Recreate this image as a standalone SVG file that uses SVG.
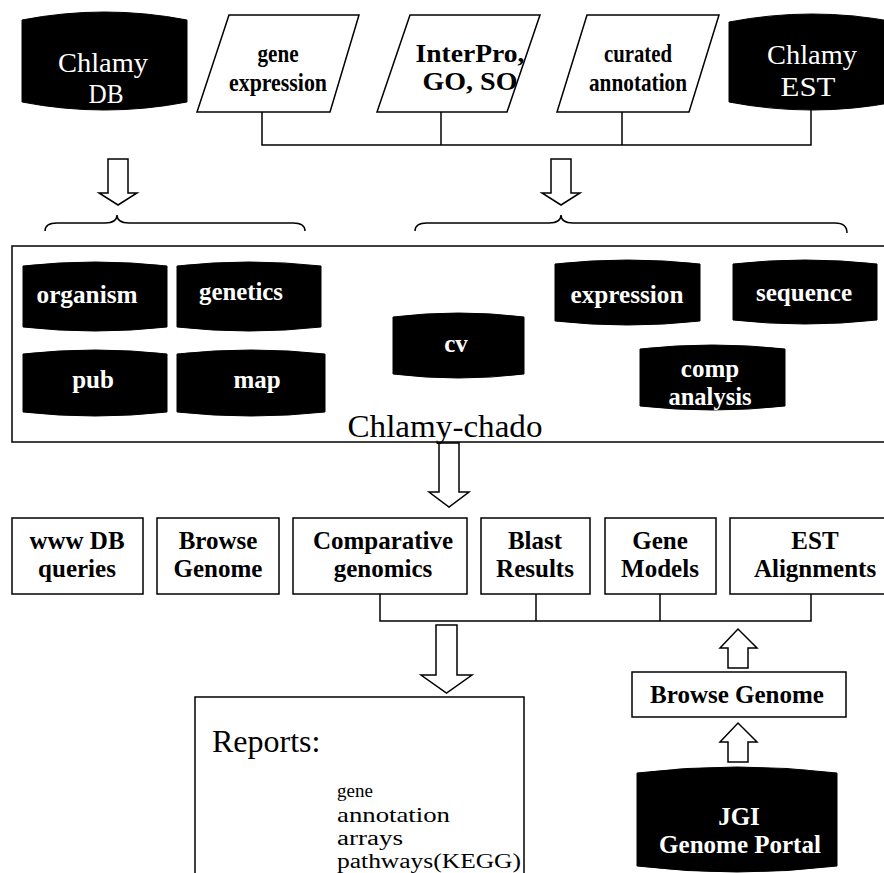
<svg xmlns="http://www.w3.org/2000/svg" width="884" height="873" viewBox="0 0 884 873">
<style>
.cyl{fill:#000;stroke:#000;stroke-width:1}
.shape{fill:#fff;stroke:#000;stroke-width:1.5}
.line{fill:none;stroke:#000;stroke-width:1.5}
.arrow{fill:#fff;stroke:#000;stroke-width:1.5;stroke-linejoin:miter}
text{font-family:"Liberation Serif","Times New Roman",serif;text-anchor:middle}
.big{fill:#fff;font-size:28px}
.lbl{fill:#fff;font-size:25px;font-weight:bold}
.par{fill:#000;font-size:25px;font-weight:bold}
.box{fill:#000;font-size:25px;font-weight:bold}
.title{fill:#000;font-size:31px}
.rep{fill:#000;text-anchor:start}
</style>
<rect width="884" height="873" fill="#fff"/>

<g id="connectors">
  <polyline class="line" points="262,112 262,145 811,145 811,110"/>
  <line class="line" x1="441" y1="112" x2="441" y2="145"/>
  <line class="line" x1="622" y1="112" x2="622" y2="145"/>
  <polyline class="line" points="380,594 380,621 811,621 811,594"/>
  <line class="line" x1="536" y1="594" x2="536" y2="621"/>
  <line class="line" x1="660" y1="594" x2="660" y2="621"/>
  <path class="line" d="M45,231 Q45,223 57,223 L105,223 Q117,223 117,215 Q117,223 129,223 L293,223 Q305,223 305,231"/>
  <path class="line" d="M415,231 Q415,223 427,223 L549,223 Q561,223 561,215 Q561,223 573,223 L835,223 Q847,223 847,233"/>
  <polygon class="arrow" points="108,159 128,159 128,193 137,193 118,205 99,193 108,193"/>
  <polygon class="arrow" points="551,159 571,159 571,193 580,193 561,205 542,193 551,193"/>
  <polygon class="arrow" points="439,443 459,443 459,492 469,492 449,507 429,492 439,492"/>
  <polygon class="arrow" points="436,625 457,625 457,675 472,675 446.5,693 421,675 436,675"/>
  <polygon class="arrow" points="728,668 748,668 748,648 757,648 738,629 720,648 728,648"/>
  <polygon class="arrow" points="728,762 748,762 748,742 757,742 738,723 720,742 728,742"/>
</g>

<g id="chlamy-db">
  <path class="cyl" d="M22,20 Q104.5,4 187,20 L187,102 Q104.5,118 22,102 Z"/>
  <text class="big" x="103" y="72" textLength="90" lengthAdjust="spacingAndGlyphs">Chlamy</text>
  <text class="big" x="106" y="103" textLength="35" lengthAdjust="spacingAndGlyphs">DB</text>
</g>

<g id="gene-expression">
  <polygon class="shape" points="229,15 359,15 330,112 197,112"/>
  <text class="par" x="278" y="62" textLength="41" lengthAdjust="spacingAndGlyphs">gene</text>
  <text class="par" x="278" y="91" textLength="98" lengthAdjust="spacingAndGlyphs">expression</text>
</g>

<g id="interpro">
  <polygon class="shape" points="410,15 540,15 507,112 377,112"/>
  <text class="par" x="470" y="62" textLength="109" lengthAdjust="spacingAndGlyphs">InterPro,</text>
  <text class="par" x="470" y="90" textLength="95" lengthAdjust="spacingAndGlyphs">GO, SO</text>
</g>

<g id="curated-annotation">
  <polygon class="shape" points="587,15 719,15 689,112 557,112"/>
  <text class="par" x="638" y="62" textLength="68" lengthAdjust="spacingAndGlyphs">curated</text>
  <text class="par" x="638" y="91" textLength="98" lengthAdjust="spacingAndGlyphs">annotation</text>
</g>

<g id="chlamy-est">
  <path class="cyl" d="M729,22 Q812,6 895,22 L895,102 Q812,118 729,102 Z"/>
  <text class="big" x="812" y="64" textLength="90" lengthAdjust="spacingAndGlyphs">Chlamy</text>
  <text class="big" x="808" y="96" textLength="55" lengthAdjust="spacingAndGlyphs">EST</text>
</g>

<g id="chlamy-chado">
  <rect class="shape" x="12" y="246" width="885" height="196" fill="none"/>
  <text class="title" x="445" y="437" textLength="195" lengthAdjust="spacingAndGlyphs">Chlamy-chado</text>
</g>

<g id="organism">
  <path class="cyl" d="M23,266 Q95,258 167,266 L167,327 Q95,335 23,327 Z"/>
  <text class="lbl" x="87" y="303" textLength="101" lengthAdjust="spacingAndGlyphs">organism</text>
</g>
<g id="genetics">
  <path class="cyl" d="M177,266 Q249,258 321,266 L321,327 Q249,335 177,327 Z"/>
  <text class="lbl" x="241" y="300" textLength="84" lengthAdjust="spacingAndGlyphs">genetics</text>
</g>
<g id="pub">
  <path class="cyl" d="M23,354 Q95,346 167,354 L167,412 Q95,420 23,412 Z"/>
  <text class="lbl" x="93" y="388">pub</text>
</g>
<g id="map">
  <path class="cyl" d="M177,354 Q251,346 325,354 L325,412 Q251,420 177,412 Z"/>
  <text class="lbl" x="257" y="388">map</text>
</g>
<g id="cv">
  <path class="cyl" d="M393,317 Q458.5,309 524,317 L524,374 Q458.5,382 393,374 Z"/>
  <text class="lbl" x="456" y="352">cv</text>
</g>
<g id="expression">
  <path class="cyl" d="M555,264 Q627.5,256 700,264 L700,321 Q627.5,329 555,321 Z"/>
  <text class="lbl" x="627" y="303" textLength="113" lengthAdjust="spacingAndGlyphs">expression</text>
</g>
<g id="sequence">
  <path class="cyl" d="M733,264 Q805,256 877,264 L877,320 Q805,328 733,320 Z"/>
  <text class="lbl" x="804" y="301" textLength="96" lengthAdjust="spacingAndGlyphs">sequence</text>
</g>
<g id="comp-analysis">
  <path class="cyl" d="M640,349 Q712.5,341 785,349 L785,406 Q712.5,414 640,406 Z"/>
  <text class="lbl" x="710" y="377">comp</text>
  <text class="lbl" x="710" y="405" textLength="83" lengthAdjust="spacingAndGlyphs">analysis</text>
</g>

<g id="www-db-queries">
  <rect class="shape" x="12" y="518" width="131" height="76"/>
  <text class="box" x="77" y="549">www DB</text>
  <text class="box" x="77" y="577">queries</text>
</g>
<g id="browse-genome-1">
  <rect class="shape" x="157" y="518" width="122" height="76"/>
  <text class="box" x="218" y="549">Browse</text>
  <text class="box" x="218" y="577">Genome</text>
</g>
<g id="comparative-genomics">
  <rect class="shape" x="293" y="518" width="174" height="76"/>
  <text class="box" x="383" y="549">Comparative</text>
  <text class="box" x="383" y="577">genomics</text>
</g>
<g id="blast-results">
  <rect class="shape" x="481" y="518" width="109" height="76"/>
  <text class="box" x="535" y="549">Blast</text>
  <text class="box" x="535" y="577">Results</text>
</g>
<g id="gene-models">
  <rect class="shape" x="605" y="518" width="111" height="76"/>
  <text class="box" x="660" y="549">Gene</text>
  <text class="box" x="660" y="577">Models</text>
</g>
<g id="est-alignments">
  <rect class="shape" x="730" y="518" width="170" height="76"/>
  <text class="box" x="815" y="549">EST</text>
  <text class="box" x="815" y="577">Alignments</text>
</g>

<g id="reports">
  <rect class="shape" x="195" y="697" width="329" height="190"/>
  <text class="rep" x="212" y="752" style="font-size:32px">Reports:</text>
  <text class="rep" x="337" y="797" style="font-size:19px">gene</text>
  <text class="rep" x="337" y="822" style="font-size:21px" textLength="113" lengthAdjust="spacingAndGlyphs">annotation</text>
  <text class="rep" x="337" y="845" style="font-size:20px" textLength="66" lengthAdjust="spacingAndGlyphs">arrays</text>
  <text class="rep" x="337" y="868" style="font-size:20px" textLength="184" lengthAdjust="spacingAndGlyphs">pathways(KEGG)</text>
</g>

<g id="browse-genome-2">
  <rect class="shape" x="632" y="672" width="214" height="45"/>
  <text class="box" x="737" y="703">Browse Genome</text>
</g>

<g id="jgi-genome-portal">
  <path class="cyl" d="M637,773 Q737,761 837,773 L837,866 Q737,878 637,866 Z"/>
  <text class="lbl" x="739" y="825">JGI</text>
  <text class="lbl" x="740" y="853">Genome Portal</text>
</g>
</svg>
